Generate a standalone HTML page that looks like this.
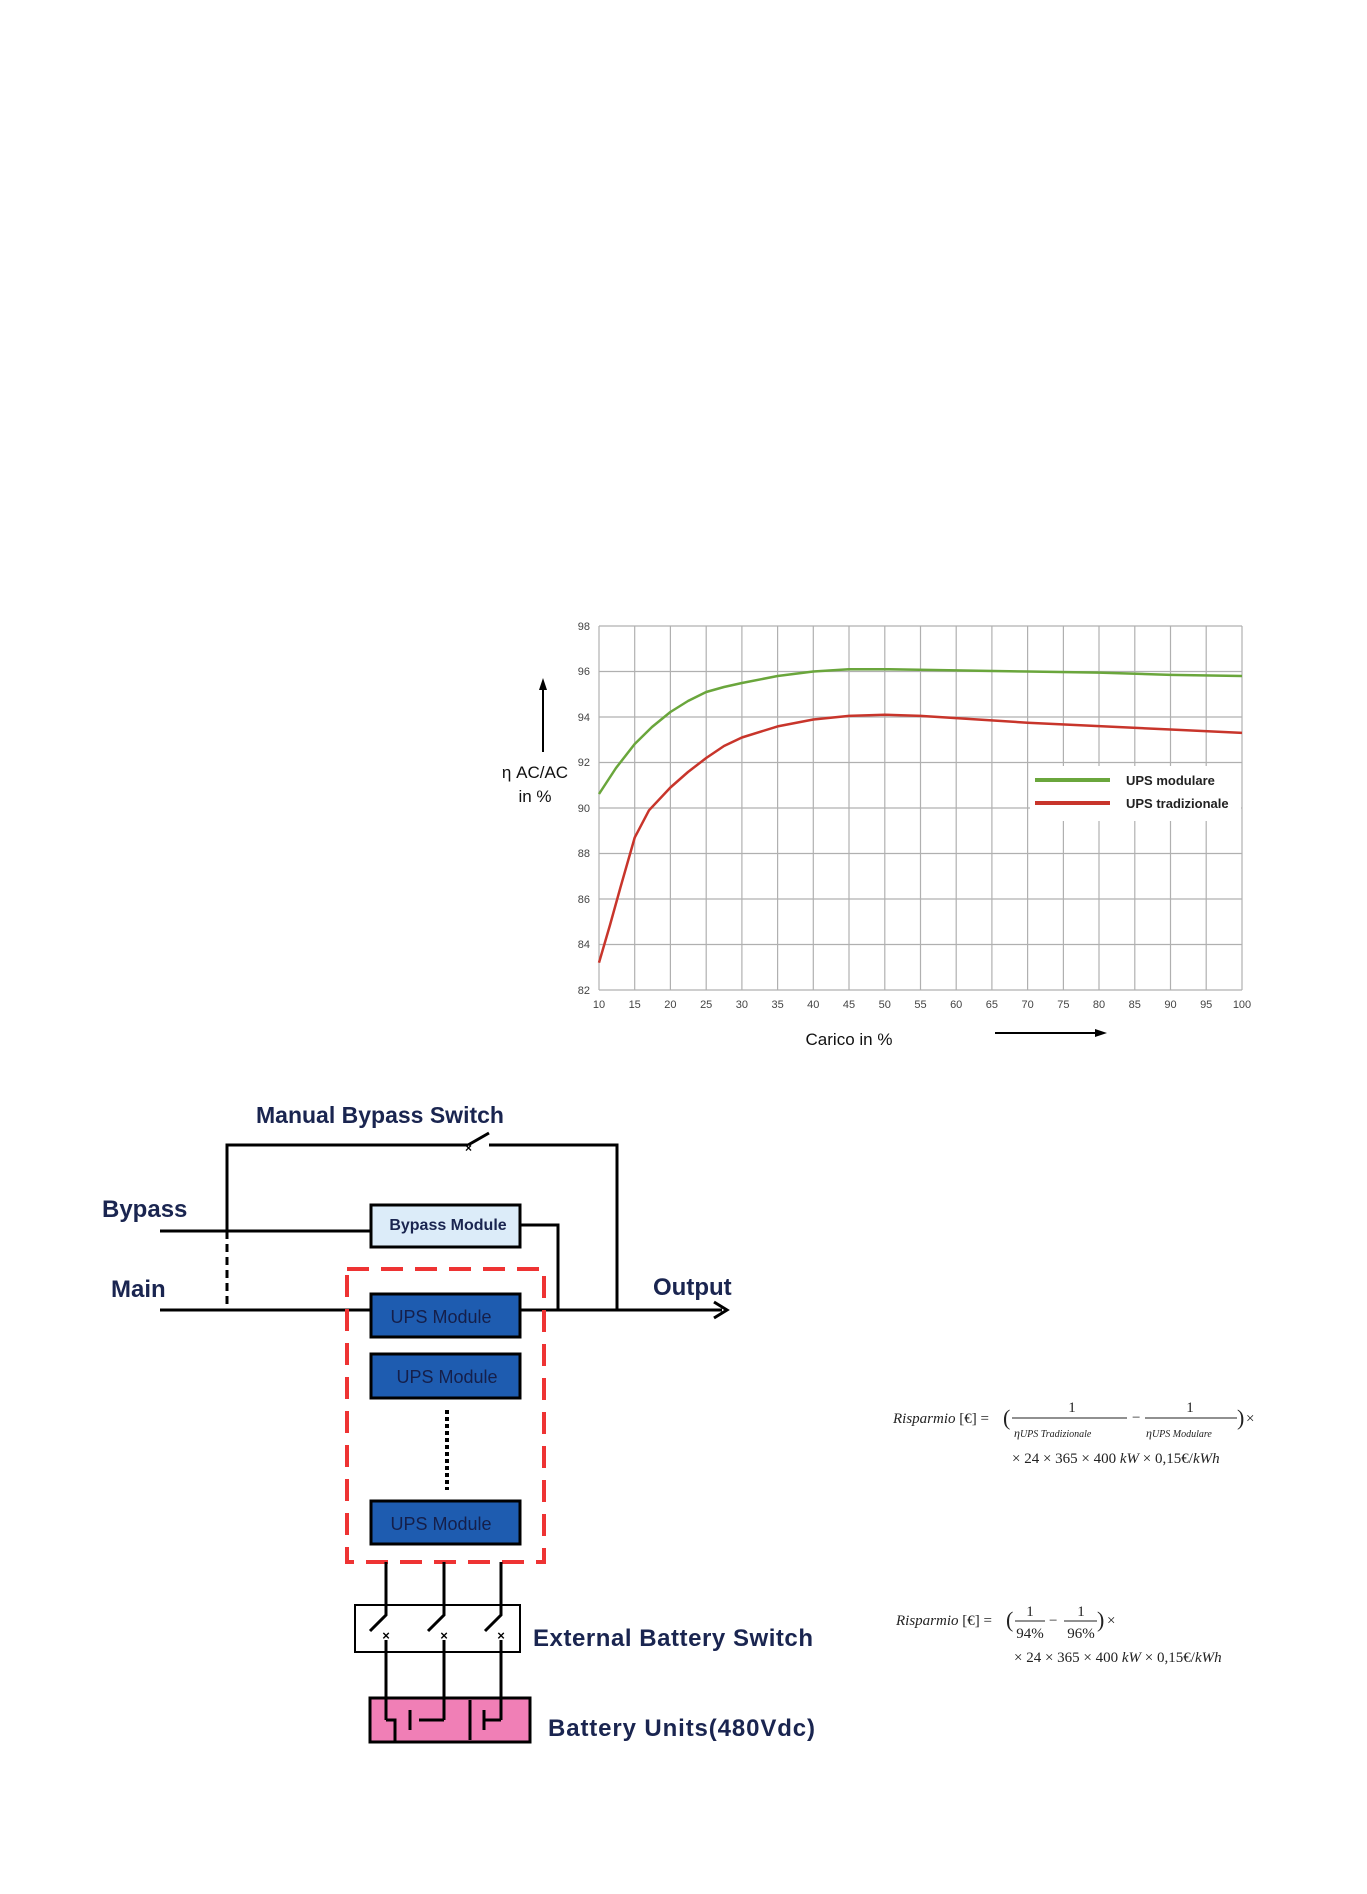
<!DOCTYPE html>
<html><head><meta charset="utf-8"><style>
html,body{margin:0;padding:0;background:#fff;}
svg{display:block;}
.d{font-family:"Liberation Sans",sans-serif;font-weight:bold;fill:#1a2550;}
.f{font-family:"Liberation Serif",serif;font-size:15px;fill:#222;}
</style></head><body>
<svg width="1367" height="1894" viewBox="0 0 1367 1894" xmlns="http://www.w3.org/2000/svg">
<g stroke="#b0b0b0" stroke-width="1.2">
<line x1="599" y1="626" x2="599" y2="990"/><line x1="634.7" y1="626" x2="634.7" y2="990"/><line x1="670.4" y1="626" x2="670.4" y2="990"/><line x1="706.2" y1="626" x2="706.2" y2="990"/><line x1="741.9" y1="626" x2="741.9" y2="990"/><line x1="777.6" y1="626" x2="777.6" y2="990"/><line x1="813.3" y1="626" x2="813.3" y2="990"/><line x1="849" y1="626" x2="849" y2="990"/><line x1="884.8" y1="626" x2="884.8" y2="990"/><line x1="920.5" y1="626" x2="920.5" y2="990"/><line x1="956.2" y1="626" x2="956.2" y2="990"/><line x1="991.9" y1="626" x2="991.9" y2="990"/><line x1="1027.6" y1="626" x2="1027.6" y2="990"/><line x1="1063.4" y1="626" x2="1063.4" y2="990"/><line x1="1099" y1="626" x2="1099" y2="990"/><line x1="1134.8" y1="626" x2="1134.8" y2="990"/><line x1="1170.5" y1="626" x2="1170.5" y2="990"/><line x1="1206.2" y1="626" x2="1206.2" y2="990"/><line x1="1242" y1="626" x2="1242" y2="990"/>
<line x1="599" y1="626" x2="1242" y2="626"/><line x1="599" y1="671.5" x2="1242" y2="671.5"/><line x1="599" y1="717" x2="1242" y2="717"/><line x1="599" y1="762.5" x2="1242" y2="762.5"/><line x1="599" y1="808" x2="1242" y2="808"/><line x1="599" y1="853.5" x2="1242" y2="853.5"/><line x1="599" y1="899" x2="1242" y2="899"/><line x1="599" y1="944.5" x2="1242" y2="944.5"/><line x1="599" y1="990" x2="1242" y2="990"/>
</g>
<rect x="1030" y="766" width="211" height="55" fill="#fff"/>
<g font-family="Liberation Sans,sans-serif" font-size="11" fill="#444" text-anchor="end">
<text x="590" y="630">98</text><text x="590" y="675">96</text><text x="590" y="721">94</text><text x="590" y="766">92</text><text x="590" y="812">90</text><text x="590" y="857">88</text><text x="590" y="903">86</text><text x="590" y="948">84</text><text x="590" y="994">82</text>
</g>
<g font-family="Liberation Sans,sans-serif" font-size="11" fill="#444" text-anchor="middle">
<text x="599" y="1008">10</text><text x="634.7" y="1008">15</text><text x="670.4" y="1008">20</text><text x="706.2" y="1008">25</text><text x="741.9" y="1008">30</text><text x="777.6" y="1008">35</text><text x="813.3" y="1008">40</text><text x="849" y="1008">45</text><text x="884.8" y="1008">50</text><text x="920.5" y="1008">55</text><text x="956.2" y="1008">60</text><text x="991.9" y="1008">65</text><text x="1027.6" y="1008">70</text><text x="1063.4" y="1008">75</text><text x="1099" y="1008">80</text><text x="1134.8" y="1008">85</text><text x="1170.5" y="1008">90</text><text x="1206.2" y="1008">95</text><text x="1242" y="1008">100</text>
</g>
<polyline fill="none" stroke="#6aa63c" stroke-width="2.5" stroke-linejoin="round" points="599,794 616,768 634.7,744 652,727 670.4,712 688,701 706.2,692 724,687 741.9,683 777.6,676 813.3,671.5 849,669.2 884.8,669.2 956.2,670.4 1027.6,671.5 1099,672.6 1170.5,674.9 1242,676"/>
<polyline fill="none" stroke="#c8352b" stroke-width="2.5" stroke-linejoin="round" points="599,962.7 610,925 620.4,887.6 634.7,837.6 649,810.3 670.4,787.5 688,772 706.2,758 724,746 741.9,737.5 777.6,726.4 813.3,719.5 849,715.9 884.8,714.7 920.5,715.9 956.2,718.1 1027.6,722.7 1099,726.1 1170.5,729.5 1242,732.9"/>
<line x1="1035" y1="780" x2="1110" y2="780" stroke="#6aa63c" stroke-width="4"/>
<line x1="1035" y1="803" x2="1110" y2="803" stroke="#c8352b" stroke-width="4"/>
<g font-family="Liberation Sans,sans-serif" font-size="13" font-weight="bold" fill="#222">
<text x="1126" y="785">UPS modulare</text><text x="1126" y="808">UPS tradizionale</text>
</g>
<line x1="543" y1="752" x2="543" y2="688" stroke="#000" stroke-width="2"/>
<polygon points="543,678 539,690 547,690" fill="#000"/>
<g font-family="Liberation Sans,sans-serif" font-size="17" fill="#111" text-anchor="middle">
<text x="535" y="778">η AC/AC</text><text x="535" y="802">in %</text>
<text x="849" y="1045">Carico in %</text>
</g>
<line x1="995" y1="1033" x2="1097" y2="1033" stroke="#000" stroke-width="2"/>
<polygon points="1107,1033 1095,1029 1095,1037" fill="#000"/>

<g stroke="#000" stroke-width="3" fill="none">
<polyline points="227,1231 227,1145 468,1145"/>
<line x1="468" y1="1145" x2="489" y2="1133"/>
<polyline points="489,1145 617,1145 617,1310"/>
<line x1="160" y1="1231" x2="371" y2="1231"/>
<line x1="227" y1="1231" x2="227" y2="1310" stroke-dasharray="8,5"/>
<polyline points="520,1225 558,1225 558,1310"/>
<line x1="160" y1="1310" x2="722" y2="1310"/>
<polyline points="714,1302 727,1310 714,1318"/>
</g>
<text x="465" y="1152" font-family="Liberation Sans,sans-serif" font-weight="bold" font-size="12" fill="#000">×</text>
<rect x="371" y="1205" width="149" height="42" fill="#dcecf9" stroke="#000" stroke-width="3"/>
<text class="d" x="448" y="1230" font-size="16" text-anchor="middle">Bypass  Module</text>
<rect x="347" y="1269" width="197" height="293" fill="none" stroke="#ee3333" stroke-width="4" stroke-dasharray="22,12"/>
<g fill="#1e5cb0" stroke="#000" stroke-width="3">
<rect x="371" y="1294" width="149" height="43"/>
<rect x="371" y="1354" width="149" height="44"/>
<rect x="371" y="1501" width="149" height="43"/>
</g>
<g font-family="Liberation Sans,sans-serif" font-size="18" fill="#151f4a" text-anchor="middle">
<text x="441" y="1323">UPS Module</text><text x="447" y="1383">UPS Module</text><text x="441" y="1530">UPS Module</text>
</g>
<line x1="447" y1="1410" x2="447" y2="1490" stroke="#000" stroke-width="4" stroke-dasharray="4,3"/>
<g class="d">
<text x="256" y="1123" font-size="23">Manual Bypass Switch</text>
<text x="102" y="1217" font-size="24">Bypass</text>
<text x="111" y="1297" font-size="24">Main</text>
<text x="653" y="1295" font-size="24">Output</text>
<text x="533" y="1646" font-size="24" textLength="280">External Battery Switch</text>
<text x="548" y="1736" font-size="24" textLength="267">Battery  Units(480Vdc)</text>
</g>
<rect x="355" y="1605" width="165" height="47" fill="none" stroke="#000" stroke-width="2"/>
<rect x="370" y="1698" width="160" height="44" fill="#f07fb6" stroke="#000" stroke-width="3"/>
<g stroke="#000" stroke-width="3" fill="none">
<polyline points="386,1562 386,1615 370,1631"/><line x1="386" y1="1640" x2="386" y2="1720"/>
<polyline points="444,1562 444,1615 428,1631"/><line x1="444" y1="1640" x2="444" y2="1720"/>
<polyline points="501,1562 501,1615 485,1631"/><line x1="501" y1="1640" x2="501" y2="1720"/>
<polyline points="386,1720 395,1720 395,1742"/>
<line x1="410" y1="1710" x2="410" y2="1730"/>
<line x1="419" y1="1720" x2="444" y2="1720"/>
<line x1="470" y1="1700" x2="470" y2="1740"/>
<line x1="484" y1="1710" x2="484" y2="1730"/>
<line x1="484" y1="1720" x2="501" y2="1720"/>
</g>
<g font-family="Liberation Sans,sans-serif" font-weight="bold" font-size="13" fill="#000" text-anchor="middle">
<text x="386" y="1640">×</text><text x="444" y="1640">×</text><text x="501" y="1640">×</text>
</g>

<g class="f">
<text x="893" y="1423"><tspan font-style="italic">Risparmio</tspan> [€] =</text>
<text x="1003" y="1425" font-size="22">(</text>
<text x="1072" y="1412" text-anchor="middle">1</text>
<line x1="1012" y1="1418" x2="1127" y2="1418" stroke="#222" stroke-width="1"/>
<text x="1014" y="1437" font-style="italic" font-size="12">η<tspan font-size="10">UPS Tradizionale</tspan></text>
<text x="1132" y="1422">−</text>
<text x="1190" y="1412" text-anchor="middle">1</text>
<line x1="1145" y1="1418" x2="1237" y2="1418" stroke="#222" stroke-width="1"/>
<text x="1146" y="1437" font-style="italic" font-size="12">η<tspan font-size="10">UPS Modulare</tspan></text>
<text x="1237" y="1425" font-size="22">)</text>
<text x="1246" y="1423">×</text>
<text x="1012" y="1463">× 24 × 365 × 400 <tspan font-style="italic">kW</tspan>  × 0,15€/<tspan font-style="italic">kWh</tspan></text>

<text x="896" y="1625"><tspan font-style="italic">Risparmio</tspan> [€] =</text>
<text x="1006" y="1627" font-size="22">(</text>
<text x="1030" y="1616" text-anchor="middle">1</text>
<line x1="1015" y1="1621" x2="1045" y2="1621" stroke="#222" stroke-width="1"/>
<text x="1030" y="1638" text-anchor="middle">94%</text>
<text x="1049" y="1625">−</text>
<text x="1081" y="1616" text-anchor="middle">1</text>
<line x1="1064" y1="1621" x2="1097" y2="1621" stroke="#222" stroke-width="1"/>
<text x="1081" y="1638" text-anchor="middle">96%</text>
<text x="1097" y="1627" font-size="22">)</text>
<text x="1107" y="1625">×</text>
<text x="1014" y="1662">× 24 × 365 × 400 <tspan font-style="italic">kW</tspan>  × 0,15€/<tspan font-style="italic">kWh</tspan></text>
</g>
</svg>
</body></html>
